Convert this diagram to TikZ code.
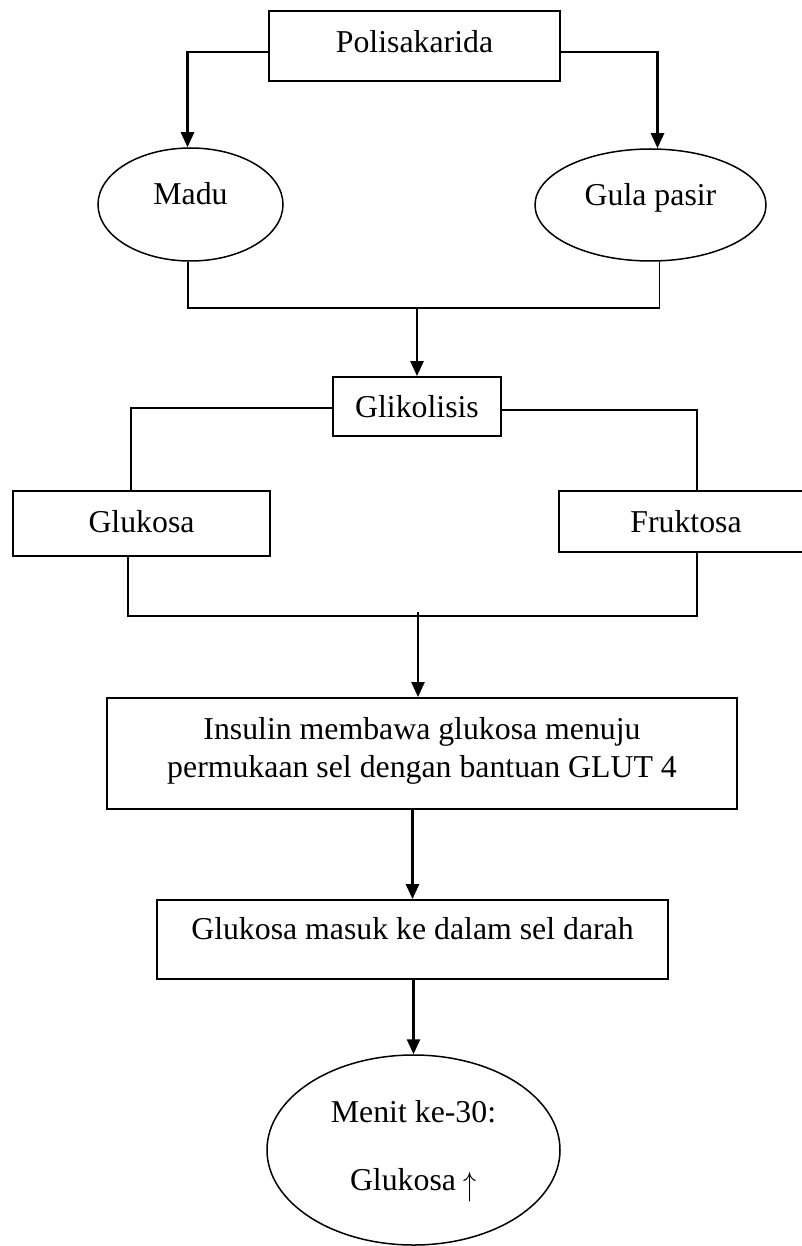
\documentclass[tikz,border=0pt]{standalone}
\usepackage{fontspec}
\setmainfont{Liberation Serif}
\usetikzlibrary{shapes.geometric,arrows.meta}
\tikzset{
  every node/.style={font=\fontsize{31.8}{38}\selectfont, inner sep=0pt},
  boxnode/.style={draw, rectangle, line width=1.8pt},
  ellnode/.style={draw, ellipse, line width=1.5pt},
  conn/.style={line width=1.6pt},
  arr/.style={line width=2.5pt, -{Triangle[width=13pt,length=15pt]}},
}
\begin{document}
\begin{tikzpicture}[x=1pt,y=-1pt]
\useasboundingbox (0,0) rectangle (801,1246);
\node[boxnode, minimum width=291pt, minimum height=70pt, text height=21pt, text depth=7pt] (poli) at (414.5,46) {Polisakarida};
\node[ellnode, minimum width=185pt, minimum height=113pt, text height=21pt, text depth=20pt] (madu) at (190.5,204.5) {Madu};
\node[ellnode, minimum width=231pt, minimum height=112pt, text height=21pt, text depth=20pt] (gula) at (650.5,205) {Gula pasir};
\node[boxnode, minimum width=168pt, minimum height=59pt] (glik) at (417,406.5) {Glikolisis};
\node[boxnode, minimum width=257pt, minimum height=65pt, text height=21pt, text depth=4pt] (gluk) at (141.5,523.5) {Glukosa};
\node[boxnode, minimum width=254pt, minimum height=61pt] (fruk) at (686,521.5) {Fruktosa};
\node[boxnode, minimum width=630pt, minimum height=111pt, align=center, text depth=13pt] (ins) at (422,753.5) {Insulin membawa glukosa menuju\\permukaan sel dengan bantuan GLUT 4};
\node[boxnode, minimum width=511pt, text height=39pt, text depth=40pt] (masuk) at (412.5,939.5) {Glukosa masuk ke dalam sel darah};
\node[ellnode, minimum width=293pt, minimum height=190pt, align=center, text depth=9pt] (menit) at (413.5,1150) {Menit ke-30:\\[30pt]Glukosa \raisebox{-5pt}{\scalebox{1.05}[1.35]{$\uparrow$}}};

\draw[arr] ([yshift=-6pt]poli.west) -| ([xshift=-3pt]madu.north);
\draw[arr] ([yshift=-6pt]poli.east) -| ([xshift=7pt]gula.north);
\coordinate (j1) at (417,308);
\draw[conn] ([xshift=-2.5pt]madu.south) |- (j1) -| ([xshift=9pt]gula.south);
\draw[arr] ([yshift=1pt]j1) -- (glik.north);
\draw[conn] ([yshift=-1.5pt]glik.west) -| ([xshift=-10.5pt]gluk.north);
\draw[conn] ([yshift=-3.5pt]glik.east) -| ([xshift=11pt]fruk.north);
\coordinate (j2) at (418,616);
\draw[conn] ([xshift=-13.5pt]gluk.south) |- (j2) -| ([xshift=11pt]fruk.south);
\draw[arr] ([yshift=4pt]j2) -- (j2 |- ins.north);
\draw[arr] (masuk.north |- ins.south) -- (masuk.north);
\draw[arr] (menit.north |- masuk.south) -- (menit.north);
\end{tikzpicture}
\end{document}
